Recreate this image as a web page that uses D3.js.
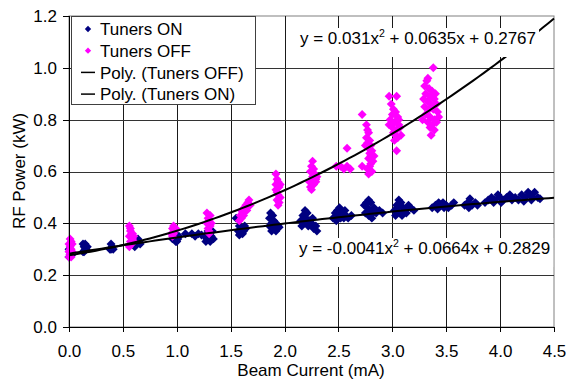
<!DOCTYPE html>
<html>
<head>
<meta charset="utf-8">
<script src="https://cdn.jsdelivr.net/npm/d3@7"></script>
<style>
  body { margin: 0; background: #fff; }
  text { font-family: "Liberation Sans", Arial, sans-serif; }
</style>
</head>
<body>
<svg id="chart" width="566" height="385"></svg>
<script>
// tick values
const xTicks = [0, 0.5, 1, 1.5, 2, 2.5, 3, 3.5, 4, 4.5];
const yTicks = [0, 0.2, 0.4, 0.6, 0.8, 1.0, 1.2];

// Tuners ON readings [beam current mA, RF power kW]
const tunersOn = [
  [0.00,0.27],[0.01,0.28],[0.02,0.29],[0.00,0.30],[0.03,0.28],[0.01,0.29],
  [0.13,0.29],[0.15,0.30],[0.14,0.31],[0.16,0.30],[0.13,0.32],[0.15,0.32],[0.17,0.31],[0.14,0.29],
  [0.38,0.30],[0.40,0.31],[0.39,0.32],[0.41,0.30],[0.39,0.30],
  [0.60,0.32],[0.62,0.33],[0.64,0.34],[0.63,0.32],[0.65,0.33],[0.61,0.31],[0.66,0.32],
  [0.96,0.34],[0.98,0.35],[1.00,0.33],[0.97,0.36],[1.01,0.34],[0.99,0.33],[1.02,0.35],
  [1.08,0.36],[1.14,0.36],[1.17,0.35],[1.20,0.36],[1.23,0.355],[1.26,0.35],[1.28,0.34],[1.30,0.36],
  [1.32,0.35],[1.34,0.34],[1.29,0.37],[1.33,0.37],[1.27,0.33],[1.31,0.33],
  [1.55,0.42],[1.58,0.39],[1.60,0.38],[1.62,0.37],[1.57,0.37],[1.61,0.36],[1.64,0.38],[1.59,0.36],[1.63,0.39],[1.58,0.355],
  [1.87,0.44],[1.89,0.43],[1.86,0.42],[1.90,0.41],[1.88,0.40],[1.92,0.40],[1.86,0.39],[1.90,0.38],[1.94,0.39],[1.88,0.37],[1.92,0.37],[1.95,0.385],
  [2.15,0.41],[2.17,0.43],[2.19,0.45],[2.21,0.44],[2.20,0.42],[2.23,0.41],[2.18,0.40],[2.22,0.39],[2.25,0.40],[2.27,0.38],[2.29,0.39],[2.26,0.42],[2.30,0.37],[2.16,0.39],
  [2.45,0.42],[2.47,0.44],[2.49,0.45],[2.51,0.46],[2.53,0.44],[2.50,0.43],[2.55,0.42],[2.48,0.41],[2.57,0.43],[2.59,0.42],[2.62,0.43],[2.52,0.42],[2.56,0.45],
  [2.74,0.47],[2.76,0.48],[2.78,0.49],[2.80,0.48],[2.77,0.46],[2.75,0.44],[2.79,0.45],[2.82,0.44],[2.78,0.43],[2.81,0.42],[2.85,0.44],[2.88,0.45],[2.91,0.44],[2.83,0.46],
  [3.02,0.45],[3.04,0.47],[3.06,0.49],[3.08,0.48],[3.05,0.46],[3.10,0.46],[3.07,0.44],[3.03,0.43],[3.12,0.45],[3.15,0.47],[3.17,0.46],[3.20,0.45],[3.09,0.43],[3.13,0.44],
  [3.37,0.46],[3.40,0.47],[3.43,0.48],[3.45,0.47],[3.42,0.455],[3.48,0.46],[3.50,0.47],[3.52,0.46],[3.55,0.47],[3.57,0.48],[3.47,0.48],
  [3.67,0.47],[3.70,0.48],[3.72,0.495],[3.74,0.47],[3.77,0.48],[3.79,0.47],[3.71,0.46],
  [3.86,0.48],[3.89,0.49],[3.92,0.50],[3.95,0.49],[3.98,0.51],[4.00,0.50],[4.03,0.49],[4.06,0.50],[4.09,0.51],[4.11,0.49],[3.94,0.48],[4.01,0.48],
  [4.14,0.50],[4.17,0.49],[4.20,0.51],[4.23,0.50],[4.26,0.52],[4.28,0.51],[4.30,0.50],[4.32,0.52],[4.35,0.50],[4.37,0.495],[4.22,0.485],[4.29,0.49]
];

// Tuners OFF readings
const tunersOff = [
  [0.00,0.27],[0.01,0.28],[0.00,0.29],[0.02,0.30],[0.01,0.31],[0.00,0.32],[0.02,0.33],[0.01,0.34],[0.03,0.29],[0.02,0.27],[0.01,0.30],[0.03,0.32],
  [0.56,0.39],[0.57,0.37],[0.58,0.36],[0.56,0.35],[0.59,0.34],[0.57,0.33],[0.58,0.32],[0.60,0.33],[0.56,0.31],[0.59,0.36],[0.57,0.38],[0.60,0.35],
  [0.95,0.36],[0.96,0.38],[0.97,0.39],[0.98,0.37],[0.96,0.35],[0.99,0.38],[0.97,0.36],
  [1.28,0.44],[1.29,0.42],[1.30,0.41],[1.28,0.40],[1.31,0.39],[1.29,0.38],[1.30,0.37],[1.32,0.40],[1.31,0.43],[1.30,0.36],
  [1.58,0.41],[1.59,0.43],[1.60,0.42],[1.61,0.44],[1.62,0.45],[1.63,0.46],[1.64,0.47],[1.66,0.48],[1.67,0.49],[1.62,0.43],[1.65,0.45],[1.60,0.45],[1.68,0.47],
  [1.92,0.59],[1.93,0.57],[1.94,0.56],[1.92,0.55],[1.95,0.54],[1.93,0.52],[1.94,0.51],[1.96,0.50],[1.93,0.49],[1.95,0.48],[1.94,0.47],[1.92,0.53],[1.96,0.55],
  [2.26,0.64],[2.25,0.62],[2.27,0.61],[2.24,0.60],[2.28,0.59],[2.26,0.58],[2.29,0.57],[2.23,0.56],[2.27,0.55],[2.24,0.54],[2.25,0.53],[2.29,0.56],[2.30,0.58],
  [2.48,0.62],[2.52,0.62],[2.55,0.61],[2.58,0.62],[2.61,0.61],[2.58,0.69],
  [2.72,0.82],[2.76,0.78],[2.77,0.76],[2.78,0.75],[2.76,0.73],[2.79,0.72],[2.77,0.71],[2.80,0.70],[2.78,0.69],[2.81,0.68],[2.79,0.67],
  [2.80,0.66],[2.78,0.65],[2.82,0.64],[2.80,0.63],[2.79,0.62],[2.77,0.61],[2.81,0.60],[2.72,0.62],[2.78,0.59],[2.83,0.66],[2.75,0.70],
  [2.97,0.89],[3.04,0.89],[2.99,0.86],[3.01,0.84],[3.03,0.83],[3.00,0.82],[3.05,0.81],[2.98,0.80],[3.02,0.79],[3.06,0.78],[3.00,0.77],
  [3.04,0.76],[3.07,0.77],[3.01,0.75],[3.03,0.74],[3.05,0.73],[3.02,0.72],[3.08,0.74],[3.04,0.68],[2.97,0.78],[3.06,0.80],
  [3.38,1.00],[3.32,0.95],[3.30,0.93],[3.34,0.92],[3.37,0.91],[3.31,0.90],[3.35,0.89],[3.39,0.88],[3.29,0.88],[3.33,0.87],[3.36,0.86],
  [3.41,0.86],[3.30,0.85],[3.34,0.84],[3.38,0.84],[3.42,0.83],[3.31,0.82],[3.35,0.81],[3.39,0.80],[3.33,0.79],[3.37,0.78],[3.41,0.79],
  [3.35,0.77],[3.39,0.76],[3.36,0.74],[3.28,0.80],[3.43,0.81],[3.40,0.90],[3.33,0.96]
];

// trendline coefficients [a, b, c] for y = a x^2 + b x + c
const fitOff = [0.031, 0.0635, 0.2767];
const fitOn = [-0.0041, 0.0664, 0.2829];
const fitOffLabel = ["y = 0.031x", "2", " + 0.0635x + 0.2767"];
const fitOnLabel = ["y = -0.0041x", "2", " + 0.0664x + 0.2829"];

const legendItems = [
  { label: "Tuners ON", kind: "dot", color: "#000080" },
  { label: "Tuners OFF", kind: "dot", color: "#ff00ff" },
  { label: "Poly. (Tuners OFF)", kind: "line", color: "#000" },
  { label: "Poly. (Tuners ON)", kind: "line", color: "#000" }
];

const svg = d3.select("#chart");
const plotL = 69, plotR = 554, plotT = 16, plotB = 327;
const fontSize = 17;

const x = d3.scaleLinear().domain([0, 4.5]).range([plotL, plotR]);
const y = d3.scaleLinear().domain([0, 1.2]).range([plotB, plotT]);

// square diamond like the spreadsheet marker
const diamond = {
  draw(ctx, size) {
    const r = Math.sqrt(size / 2);
    ctx.moveTo(0, -r); ctx.lineTo(r, 0); ctx.lineTo(0, r); ctx.lineTo(-r, 0); ctx.closePath();
  }
};

// plot border and grid
svg.append("rect")
  .attr("x", plotL).attr("y", plotT)
  .attr("width", plotR - plotL).attr("height", plotB - plotT)
  .attr("fill", "#fff").attr("stroke", "#808080");

const grid = svg.append("g").attr("shape-rendering", "crispEdges");
grid.selectAll(".vg").data(xTicks.slice(1, -1)).join("line")
  .attr("x1", d => Math.round(x(d)) + 0.5).attr("x2", d => Math.round(x(d)) + 0.5)
  .attr("y1", plotT).attr("y2", plotB)
  .attr("stroke", "#1a1a1a");
grid.selectAll(".hg").data(yTicks.slice(1, -1)).join("line")
  .attr("x1", plotL).attr("x2", plotR)
  .attr("y1", d => Math.round(y(d)) + 0.5).attr("y2", d => Math.round(y(d)) + 0.5)
  .attr("stroke", "#333");

// scatter series
const sym = d3.symbol().type(diamond).size(40);
svg.append("g").selectAll("path").data(tunersOn).join("path")
  .attr("transform", d => `translate(${x(d[0])},${y(d[1])})`)
  .attr("d", sym).attr("fill", "#000080");
svg.append("g").selectAll("path").data(tunersOff).join("path")
  .attr("transform", d => `translate(${x(d[0])},${y(d[1])})`)
  .attr("d", sym).attr("fill", "#ff00ff");

// trendlines
const poly = c => v => c[0] * v * v + c[1] * v + c[2];
const line = d3.line().x(d => x(d[0])).y(d => y(d[1]));
[fitOff, fitOn].forEach(c => {
  const f = poly(c);
  svg.append("path")
    .datum(d3.range(0, 4.5001, 0.05).map(v => [v, f(v)]))
    .attr("d", line)
    .attr("fill", "none").attr("stroke", "#000").attr("stroke-width", 2);
});

// equation labels with white backdrop
function eqLabel(parts, px, py) {
  const g = svg.append("g");
  const bg = g.append("rect").attr("fill", "#fff");
  const t = g.append("text").attr("x", px).attr("y", py)
    .attr("font-size", fontSize).attr("fill", "#000");
  t.append("tspan").text(parts[0]);
  t.append("tspan").attr("dy", -7).attr("font-size", fontSize * 0.62).text(parts[1]);
  t.append("tspan").attr("dy", 7).text(parts[2]);
  const b = t.node().getBBox();
  bg.attr("x", b.x - 5).attr("y", b.y + 1).attr("width", b.width + 8).attr("height", b.height + 8);
}
eqLabel(fitOffLabel, 300, 44);
eqLabel(fitOnLabel, 299, 254);

// axes
const xAxis = svg.append("g").attr("transform", `translate(0,${plotB})`)
  .call(d3.axisBottom(x).tickValues(xTicks).tickFormat(d3.format(".1f")).tickSize(5).tickPadding(13));
const yAxis = svg.append("g").attr("transform", `translate(${plotL},0)`)
  .call(d3.axisLeft(y).tickValues(yTicks).tickFormat(d3.format(".1f")).tickSize(6).tickPadding(6));
[xAxis, yAxis].forEach(a => {
  a.selectAll("text").attr("font-size", fontSize).attr("font-family", null).attr("fill", "#000");
  a.selectAll("line, path").attr("stroke", "#000");
  a.attr("shape-rendering", "crispEdges");
});

svg.append("text").attr("x", 311).attr("y", 376).attr("text-anchor", "middle")
  .attr("font-size", 17).text("Beam Current (mA)");
svg.append("text").attr("transform", "translate(25,171) rotate(-90)").attr("text-anchor", "middle")
  .attr("font-size", 17).text("RF Power (kW)");

// legend
const lg = svg.append("g");
lg.append("rect").attr("x", 71.5).attr("y", 16.5).attr("width", 184).attr("height", 88)
  .attr("fill", "#fff").attr("stroke", "#404040");
legendItems.forEach((it, i) => {
  const cy = 29 + i * 21.7;
  if (it.kind === "dot") {
    lg.append("path").attr("transform", `translate(88,${cy})`)
      .attr("d", d3.symbol().type(diamond).size(20)).attr("fill", it.color);
  } else {
    lg.append("line").attr("x1", 81).attr("x2", 95).attr("y1", cy).attr("y2", cy)
      .attr("stroke", it.color).attr("stroke-width", 1.5);
  }
  lg.append("text").attr("x", 100).attr("y", cy).attr("dy", "0.36em")
    .attr("font-size", fontSize).text(it.label);
});
</script>
</body>
</html>
